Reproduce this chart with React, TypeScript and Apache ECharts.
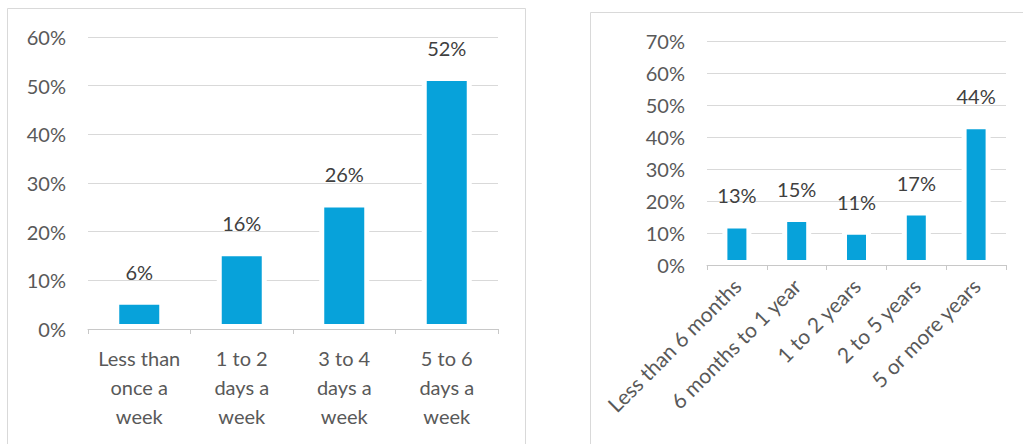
import React, { useEffect, useRef } from "react";
import * as echarts from "echarts";

const freqCategories = ["Less than\nonce a\nweek", "1 to 2\ndays a\nweek", "3 to 4\ndays a\nweek", "5 to 6\ndays a\nweek"];
const freqValues = [6, 16, 26, 52];

const tenureCategories = ["Less than 6 months", "6 months to 1 year", "1 to 2 years", "2 to 5 years", "5 or more years"];
const tenureValues = [13, 15, 11, 17, 44];

const BAR = "#07A2DA";
const FONT = "Lato";

export default function App() {
  const ref = useRef<HTMLDivElement>(null);
  useEffect(() => {
    if (!ref.current) return;
    const chart = echarts.init(ref.current, undefined, { renderer: "svg" });
    const yAxisCommon = {
      type: "value" as const,
      min: 0,
      interval: 10,
      axisLine: { show: false },
      axisTick: { show: false },
      splitLine: { lineStyle: { color: "#d9d9d9", width: 1 } },
      axisLabel: { formatter: "{value}%", color: "#595959", fontSize: 20, fontFamily: FONT, margin: 22 },
    };
    const xAxisCommon = {
      type: "category" as const,
      z: 3,
      axisLine: { lineStyle: { color: "#c8c8c8", width: 1 } },
      axisTick: { show: true, length: 5, lineStyle: { color: "#c8c8c8" } },
      splitLine: { show: false },
    };
    const labelCommon = {
      show: true,
      position: "top" as const,
      distance: 18,
      formatter: "{c}%",
      color: "#404040",
      fontSize: 20,
      fontFamily: FONT,
    };
    chart.setOption({
      animation: false,
      backgroundColor: "#ffffff",
      textStyle: { fontFamily: FONT },
      graphic: [
        { type: "rect", shape: { x: 7.5, y: 8.5, width: 518, height: 500 }, style: { fill: "none", stroke: "#d9d9d9", lineWidth: 1 } },
        { type: "rect", shape: { x: 590.5, y: 12.5, width: 500, height: 500 }, style: { fill: "none", stroke: "#d9d9d9", lineWidth: 1 } },
      ],
      grid: [
        { left: 88, top: 37, width: 410, height: 292 },
        { left: 707, top: 41, width: 299, height: 224 },
      ],
      xAxis: [
        {
          ...xAxisCommon,
          gridIndex: 0,
          data: freqCategories,
          axisLabel: { color: "#595959", fontSize: 20, fontFamily: FONT, lineHeight: 29, margin: 14, interval: 0 },
        },
        {
          ...xAxisCommon,
          gridIndex: 1,
          data: tenureCategories,
          axisLabel: { color: "#595959", fontSize: 21, fontFamily: FONT, rotate: 45, margin: 17, interval: 0 },
        },
      ],
      yAxis: [
        { ...yAxisCommon, gridIndex: 0, max: 60 },
        { ...yAxisCommon, gridIndex: 1, max: 70 },
      ],
      series: [
        {
          type: "bar",
          xAxisIndex: 0,
          yAxisIndex: 0,
          data: freqValues,
          barWidth: 50,
          itemStyle: { color: BAR, borderColor: "#ffffff", borderWidth: 5 },
          label: labelCommon,
        },
        {
          type: "bar",
          xAxisIndex: 1,
          yAxisIndex: 1,
          data: tenureValues,
          barWidth: 29,
          itemStyle: { color: BAR, borderColor: "#ffffff", borderWidth: 5 },
          label: labelCommon,
        },
      ],
    });
    return () => chart.dispose();
  }, []);
  return <div ref={ref} style={{ position: "absolute", left: 0, top: 0, width: 1023, height: 444 }} />;
}
